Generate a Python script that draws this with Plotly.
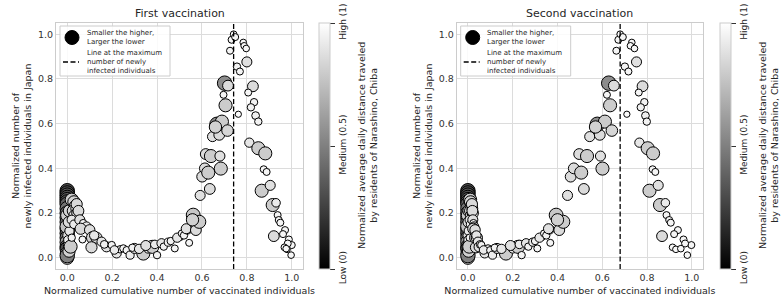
import numpy as np
import plotly.graph_objects as go

# ---------------- data ----------------
x_first = [
    0, 0, 0, 0, 0, 0, 0, 0, 0, 0, 0, 0, 0, 0, 0, 0, 0, 0, 0, 0, 0, 0,
    0.005, 0.005, 0.008, 0.010, 0.003, 0.006, 0.010, 0.020, 0.030, 0.035, 0.025, 0.040,
    0.030, 0.045, 0.020, 0.030, 0.015, 0.020,
    0.042, 0.050, 0.056, 0.071, 0.086, 0.060, 0.100, 0.068, 0.113, 0.130, 0.108, 0.120,
    0.153, 0.175, 0.165, 0.198, 0.220, 0.235, 0.250, 0.210, 0.265, 0.280, 0.300, 0.290,
    0.339, 0.320, 0.360, 0.379, 0.350, 0.400, 0.390, 0.420, 0.430, 0.450, 0.461, 0.479,
    0.503, 0.490, 0.510, 0.520, 0.536, 0.543, 0.530, 0.573, 0.561, 0.588, 0.558,
    0.592, 0.635, 0.601, 0.613, 0.628, 0.684, 0.617, 0.640, 0.680, 0.647, 0.677, 0.667,
    0.689, 0.660, 0.714, 0.705, 0.696, 0.701, 0.716, 0.725, 0.732, 0.741, 0.748, 0.784,
    0.788, 0.797, 0.800, 0.756, 0.769, 0.827, 0.806, 0.832, 0.818, 0.762, 0.839, 0.851,
    0.811, 0.851, 0.882, 0.875, 0.888, 0.866, 0.904, 0.915, 0.930, 0.937, 0.942, 0.949,
    0.970, 0.920, 0.961, 0.987, 1.000, 0.982, 0.967, 0.979, 0.975, 0.997,
]
x_second = [
    0, 0, 0, 0, 0, 0, 0, 0, 0, 0, 0, 0, 0, 0, 0, 0, 0, 0, 0, 0, 0, 0,
    0.003, 0.002, 0.003, 0.004, 0.001, 0.002, 0.005, 0.010, 0.012, 0.015, 0.010, 0.020,
    0.012, 0.022, 0.008, 0.012, 0.006, 0.008,
    0.018, 0.020, 0.022, 0.025, 0.028, 0.024, 0.032, 0.030, 0.035, 0.040, 0.036, 0.038,
    0.045, 0.050, 0.055, 0.060, 0.075, 0.085, 0.090, 0.070, 0.100, 0.110, 0.130, 0.120,
    0.170, 0.150, 0.200, 0.224, 0.190, 0.240, 0.230, 0.260, 0.270, 0.290, 0.300, 0.310,
    0.330, 0.320, 0.340, 0.350, 0.365, 0.368, 0.360, 0.408, 0.394, 0.426, 0.400,
    0.445, 0.518, 0.459, 0.473, 0.506, 0.601, 0.497, 0.532, 0.592, 0.544, 0.589, 0.578,
    0.612, 0.570, 0.643, 0.635, 0.621, 0.629, 0.652, 0.663, 0.672, 0.680, 0.692, 0.732,
    0.726, 0.744, 0.753, 0.701, 0.717, 0.780, 0.763, 0.788, 0.772, 0.710, 0.793, 0.799,
    0.766, 0.803, 0.827, 0.825, 0.837, 0.811, 0.850, 0.858, 0.882, 0.887, 0.899, 0.906,
    0.938, 0.867, 0.921, 0.963, 0.998, 0.970, 0.914, 0.929, 0.951, 0.980,
]
y_new_infected = [
    0.30, 0.29, 0.28, 0.27, 0.26, 0.25, 0.24, 0.22, 0.20, 0.18, 0.16, 0.13, 0.11, 0.09,
    0.07, 0.05, 0.04, 0.02, 0.00, 0.01, 0.14, 0.19,
    0.10, 0.06, 0.03, 0.12, 0.08, 0.16, 0.21, 0.26, 0.25, 0.23, 0.21, 0.22,
    0.19, 0.20, 0.17, 0.15, 0.05, 0.09,
    0.24, 0.21, 0.17, 0.155, 0.14, 0.13, 0.125, 0.082, 0.09, 0.09, 0.047, 0.10,
    0.072, 0.049, 0.06, 0.057, 0.02, 0.038, 0.042, 0.035, 0.034, 0.012, 0.042, 0.045,
    0.019, 0.04, 0.04, 0.049, 0.055, 0.012, 0.06, 0.065, 0.05, 0.07, 0.075, 0.042,
    0.094, 0.09, 0.109, 0.10, 0.127, 0.067, 0.13, 0.124, 0.191, 0.161, 0.17,
    0.279, 0.308, 0.363, 0.40, 0.381, 0.399, 0.464, 0.455, 0.455, 0.542, 0.550, 0.597,
    0.609, 0.585, 0.569, 0.682, 0.729, 0.781, 0.770, 0.926, 0.975, 1.000, 0.987, 0.963,
    0.948, 0.936, 0.876, 0.855, 0.833, 0.767, 0.739, 0.696, 0.673, 0.642, 0.636, 0.609,
    0.515, 0.490, 0.467, 0.396, 0.384, 0.300, 0.324, 0.236, 0.246, 0.191, 0.169, 0.157,
    0.124, 0.097, 0.106, 0.082, 0.057, 0.064, 0.047, 0.038, 0.041, 0.012,
]
mobility = [
    0.30, 0.28, 0.32, 0.30, 0.35, 0.33, 0.38, 0.45, 0.40, 0.50, 0.42, 0.55, 0.35, 0.45,
    0.60, 0.40, 0.30, 0.78, 0.80, 0.50, 0.75, 0.80,
    0.85, 0.88, 0.82, 0.90, 0.92, 0.86, 0.82, 0.80, 0.82, 0.83, 0.85, 0.86,
    0.88, 0.85, 0.90, 0.92, 0.80, 0.95,
    0.85, 0.86, 0.88, 0.95, 0.90, 0.85, 0.87, 0.96, 0.82, 0.85, 0.85, 0.90,
    0.90, 0.88, 0.94, 0.95, 0.90, 0.95, 0.95, 0.92, 0.95, 0.93, 0.88, 0.95,
    0.80, 0.90, 0.92, 0.80, 0.88, 0.95, 0.92, 0.90, 0.95, 0.93, 0.95, 0.96,
    0.95, 0.90, 0.96, 0.95, 0.90, 0.96, 0.88, 0.86, 0.78, 0.80, 0.82,
    0.88, 0.86, 0.86, 0.86, 0.80, 0.80, 0.86, 0.80, 0.88, 0.88, 0.86, 0.55,
    0.80, 0.82, 0.84, 0.80, 0.96, 0.55, 0.86, 0.96, 0.96, 0.97, 0.96, 0.97,
    0.97, 0.97, 0.88, 0.95, 0.96, 0.86, 0.96, 0.95, 0.95, 0.98, 0.94, 0.95,
    0.90, 0.80, 0.80, 0.96, 0.96, 0.80, 0.88, 0.80, 0.92, 0.96, 0.96, 0.96,
    0.96, 0.86, 0.96, 0.96, 0.96, 0.96, 0.97, 0.97, 0.97, 0.97,
]
panel_titles = ["First vaccination", "Second vaccination"]
cb_ticktext = ["Low (0)", "Medium (0.5)", "High (1)"]
cb_title = "Normalized average daily distance traveled<br>by residents of Narashino, Chiba"
axis_ticks = [0.0, 0.2, 0.4, 0.6, 0.8, 1.0]
legend_size_text = "Smaller the higher,<br>Larger the lower"
legend_line_text = "Line at the maximum<br>number of newly<br>infected individuals"

# ---------------- figure ----------------
W, H = 783, 304
FONT = "DejaVu Sans"
TXT = "#262626"
m = np.array(mobility)
y = np.array(y_new_infected)
sizes = np.clip(5.5 + 38 * (1 - m), 5.5, 14.5)
gray = [[0, "#000000"], [1, "#ffffff"]]


def px(xp):
    return xp / W


def py(yp):
    return (H - yp) / H


fig = go.Figure()

panels = [
    dict(x=x_first, xa="x", ya="y", xdom=(56, 303), cbx=319),
    dict(x=x_second, xa="x2", ya="y2", xdom=(456.7, 703), cbx=720),
]
ydom = (py(269), py(23))
shapes = []
annotations = []

for i, p in enumerate(panels):
    xv = np.array(p["x"])
    fig.add_trace(go.Scatter(
        x=xv, y=y, mode="markers", xaxis=p["xa"], yaxis=p["ya"], showlegend=False,
        hoverinfo="skip",
        marker=dict(
            color=m, cmin=0, cmax=1, colorscale=gray, size=sizes,
            line=dict(color="black", width=1), opacity=1,
            showscale=True,
            colorbar=dict(
                x=px(p["cbx"]), xanchor="left", xpad=0, ypad=0,
                y=(ydom[0] + ydom[1]) / 2, yanchor="middle",
                len=(269 - 23) / H, lenmode="fraction",
                thickness=11, thicknessmode="pixels",
                outlinewidth=1, outlinecolor="#cccccc",
                tickvals=[0, 0.5, 1], ticktext=cb_ticktext, tickangle=-90,
                ticks="outside", ticklen=5, tickcolor="#333333",
                tickfont=dict(size=9, color=TXT, family=FONT),
            ),
        ),
    ))
    peak_x = xv[int(np.argmax(y))]
    fig.add_trace(go.Scatter(
        x=[peak_x, peak_x], y=[-0.05, 1.05], mode="lines", xaxis=p["xa"], yaxis=p["ya"],
        line=dict(color="black", width=1.3, dash="5px,2.5px"),
        showlegend=False, hoverinfo="skip",
    ))

    # colorbar label (rotated)
    annotations.append(dict(text=cb_title, x=px(p["cbx"] + 48.5), y=py(145.5),
                            xref="paper", yref="paper", showarrow=False, textangle=-90,
                            xanchor="center", yanchor="middle", align="center",
                            font=dict(size=9.5, color=TXT, family=FONT)))

    # legend box drawn inside the axes (top-left)
    L = p["xdom"][0]
    shapes.append(dict(type="rect", xref="paper", yref="paper",
                       x0=px(L + 4), x1=px(L + 114), y0=py(76), y1=py(26),
                       line=dict(color="#cccccc", width=1), fillcolor="rgba(255,255,255,0.85)",
                       layer="above"))
    shapes.append(dict(type="circle", xref="paper", yref="paper",
                       xsizemode="pixel", ysizemode="pixel",
                       xanchor=px(L + 16), yanchor=py(37.5),
                       x0=-7, x1=7, y0=-7, y1=7,
                       fillcolor="black", line=dict(color="black", width=1), layer="above"))
    shapes.append(dict(type="line", xref="paper", yref="paper",
                       x0=px(L + 7), x1=px(L + 23), y0=py(62), y1=py(62),
                       line=dict(color="black", width=1.3, dash="5px,2.5px"), layer="above"))
    annotations.append(dict(text=legend_size_text, x=px(L + 28.5), y=py(37.5),
                            xref="paper", yref="paper", showarrow=False,
                            xanchor="left", yanchor="middle", align="left",
                            font=dict(size=7, color=TXT, family=FONT)))
    annotations.append(dict(text=legend_line_text, x=px(L + 28.5), y=py(62),
                            xref="paper", yref="paper", showarrow=False,
                            xanchor="left", yanchor="middle", align="left",
                            font=dict(size=7, color=TXT, family=FONT)))
    annotations.append(dict(text=panel_titles[i], x=px((p["xdom"][0] + p["xdom"][1]) / 2), y=py(14),
                            xref="paper", yref="paper", showarrow=False,
                            xanchor="center", yanchor="middle",
                            font=dict(size=11, color=TXT, family=FONT)))

axis_common = dict(
    range=[-0.05, 1.05], tickvals=axis_ticks, tickformat=".1f",
    showgrid=True, gridcolor="#dcdcdc", gridwidth=1, zeroline=False,
    showline=True, mirror=True, linecolor="#cccccc", linewidth=1, ticks="",
    tickfont=dict(size=9.5, color="#333333", family=FONT), automargin=False,
)

layout = dict(
    width=W, height=H, margin=dict(l=0, r=0, t=0, b=0, autoexpand=False),
    paper_bgcolor="white", plot_bgcolor="white",
    font=dict(family=FONT, color=TXT),
    showlegend=False, hovermode=False,
    shapes=shapes, annotations=annotations,
)
for i, p in enumerate(panels):
    sfx = "" if i == 0 else "2"
    layout["xaxis" + sfx] = dict(axis_common, domain=[px(p["xdom"][0]), px(p["xdom"][1])],
                                 anchor="y" + sfx,
                                 title=dict(text="Normalized cumulative number of vaccinated individuals",
                                            font=dict(size=9.5, color=TXT), standoff=4))
    layout["yaxis" + sfx] = dict(axis_common, domain=list(ydom), anchor="x" + sfx,
                                 title=dict(text="Normalized number of<br>newly infected individuals in Japan",
                                            font=dict(size=9.5, color=TXT), standoff=4))

fig.update_layout(**layout)
fig.write_html("out.html", config={"displayModeBar": False},
               post_script="document.body.style.margin='0';document.body.style.overflow='hidden';")
